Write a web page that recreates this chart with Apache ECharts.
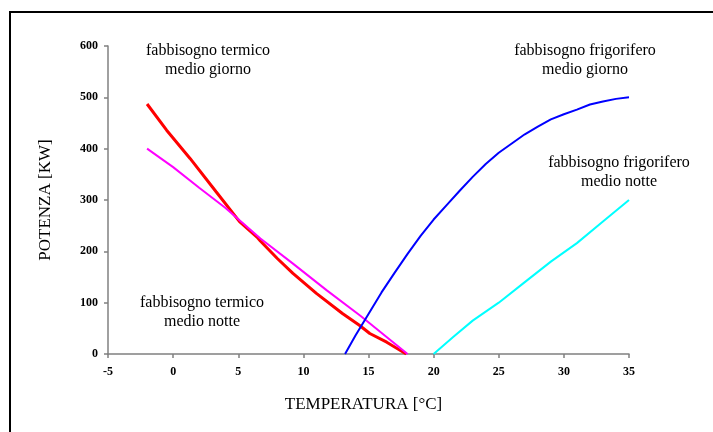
<!DOCTYPE html>
<html>
<head>
<meta charset="utf-8">
<style>html,body{margin:0;padding:0;background:#fff}#c{width:713px;height:432px}</style>
<script src="https://cdn.jsdelivr.net/npm/echarts@6/dist/echarts.min.js"></script>
</head>
<body>
<div id="c"></div>
<script>
// Data
var termicoGiorno = [[-2,487],[-0.5,436],[1.3,381],[3.3,316],[5.1,258],[6.5,226],[6.7,220],[8,186],[9.2,157],[11,118],[13,79],[14.3,56],[15.1,40],[16.4,23],[17.9,0]];
var termicoNotte = [[-2,400],[0,364],[2,324],[4,285],[6.7,225],[9.2,176],[11.8,124],[14.4,74],[18,0]];
var frigoGiorno = [[13.2,0],[14,36],[15,78],[16,120],[17,158],[18,195],[19,230],[20,262],[21,290],[22,318],[23,345],[24,370],[25,392],[26,410],[27,428],[28,443],[29,457],[30,467],[31,476],[32,486],[33,492],[34,497],[35,500]];
var frigoNotte = [[20,0],[21.5,33],[23,65],[25,100],[27,140],[29,180],[31,216],[33,258],[35,300]];
var xName = 'TEMPERATURA [°C]';
var yName = 'POTENZA [KW]';
var labels = [
  'fabbisogno termico\nmedio giorno',
  'fabbisogno frigorifero\nmedio giorno',
  'fabbisogno frigorifero\nmedio notte',
  'fabbisogno termico\nmedio notte'
];

var serif = 'Liberation Serif';
var chart = echarts.init(document.getElementById('c'));
function ann(text, cx, cy) {
  return {type:'text', x: cx, y: cy, style:{text:text, font:'16px "Liberation Serif"', fill:'#000', align:'center', verticalAlign:'middle', lineHeight:19}};
}
var axisCommon = {
  axisLine:{show:true, onZero:false, lineStyle:{color:'#808080', width:1.5}},
  axisTick:{show:true, length:4, lineStyle:{color:'#808080', width:1.5}},
  splitLine:{show:false},
  axisLabel:{fontFamily:serif, fontWeight:'bold', fontSize:12, color:'#000'}
};
chart.setOption({
  animation:false,
  grid:{left:108, right:84, top:46, bottom:78},
  xAxis: Object.assign({}, axisCommon, {
    type:'value', min:-5, max:35, interval:5,
    name:xName, nameLocation:'middle', nameGap:42,
    nameTextStyle:{fontFamily:serif, fontSize:17, color:'#000', padding:[0,10,0,0]},
    axisLabel:Object.assign({}, axisCommon.axisLabel, {margin:12})
  }),
  yAxis: Object.assign({}, axisCommon, {
    type:'value', min:0, max:600, interval:100,
    name:yName, nameLocation:'middle', nameGap:54, nameRotate:90,
    nameTextStyle:{fontFamily:serif, fontSize:17, color:'#000'},
    axisLabel:Object.assign({}, axisCommon.axisLabel, {margin:10})
  }),
  series:[
    {type:'line', data:termicoGiorno, symbol:'none', lineStyle:{color:'#ff0000', width:3}},
    {type:'line', data:termicoNotte, symbol:'none', lineStyle:{color:'#ff00ff', width:2}},
    {type:'line', data:frigoGiorno, symbol:'none', lineStyle:{color:'#0000ff', width:2}},
    {type:'line', data:frigoNotte, symbol:'none', lineStyle:{color:'#00ffff', width:2}}
  ],
  graphic:[
    {type:'rect', shape:{x:10, y:12, width:720, height:440}, style:{fill:'none', stroke:'#000', lineWidth:2}, silent:true},
    ann(labels[0], 208, 60),
    ann(labels[1], 585, 60),
    ann(labels[2], 619, 172),
    ann(labels[3], 202, 312)
  ]
});
</script>
</body>
</html>
